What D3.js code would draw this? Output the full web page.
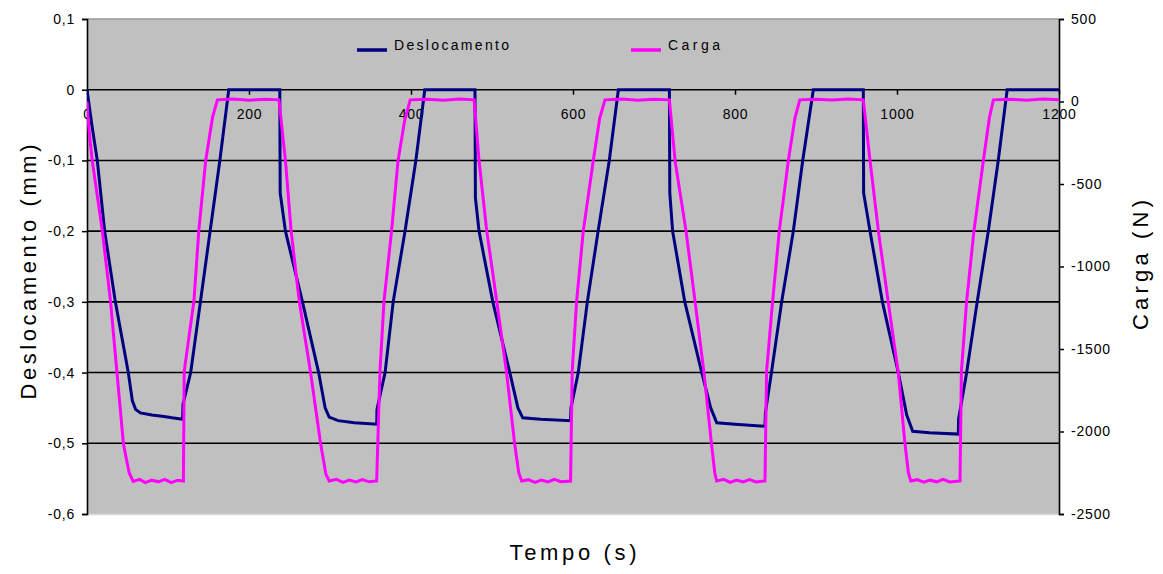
<!DOCTYPE html>
<html><head><meta charset="utf-8">
<script src="https://cdn.jsdelivr.net/npm/d3@7"></script>
<style>body{margin:0;background:#fff}svg{display:block}text{font-family:"Liberation Sans",Arial,sans-serif}</style>
</head><body><svg id="c" width="1163" height="574"></svg>
<script>
// ---- data ----
const seriesNames = ["Deslocamento", "Carga"];
const tempoDesl = [0,6,12.7,21.8,35,51,56,60,66,80,95,105,118,
 118.5,128,140,152,164,175,238,
 238.5,245,266,286,294,299,310,330,357.7,
 358,368,378,392.6,406,417,479,
 479.5,484,501,522,532,538,560,597,
 597.5,606.5,617.7,631,644.8,656,719,
 719.5,723,738,759,770,777.5,800,837,
 837.5,845,857.6,872,883.6,896.7,958.4,
 958.8,966.7,982,1001.6,1012,1019.4,1040,1075.7,
 1076,1086,1099,1112.7,1125,1136,1200];
const deslocamento = [0,-0.05,-0.1,-0.2,-0.3,-0.4,-0.44,-0.452,-0.457,-0.46,-0.462,-0.464,-0.466,
 -0.445,-0.4,-0.3,-0.2,-0.1,0,0,
 -0.146,-0.2,-0.3,-0.4,-0.45,-0.463,-0.468,-0.471,-0.473,
 -0.452,-0.4,-0.3,-0.2,-0.1,0,0,
 -0.153,-0.2,-0.3,-0.4,-0.45,-0.464,-0.466,-0.468,
 -0.45,-0.4,-0.3,-0.2,-0.1,0,0,
 -0.146,-0.2,-0.3,-0.4,-0.45,-0.471,-0.473,-0.476,
 -0.457,-0.4,-0.3,-0.2,-0.1,0,0,
 -0.146,-0.2,-0.3,-0.4,-0.46,-0.483,-0.485,-0.487,
 -0.466,-0.4,-0.3,-0.2,-0.1,0,0];
const tempoCarga = [0,1,3,6.5,18.9,29,37,45,52,57,65,72,80,88,96,104,112,119,
 120,132,138,146.5,155,161,180,200,220,237,
 245,252,262,276,288.5,295,299,308,316,324,332,340,348,357.6,
 361.7,366.7,376,384,392,399,420,440,460,478,
 484,493.5,505.8,518,528,533,536.7,545,553,561,569,577,585,597,
 599,604.5,612.7,625,633,639.5,660,680,700,719,
 726,739.5,750.6,761.7,771,775,777.4,786,794,802,810,818,826,837,
 839,846.5,854.7,865.8,874,880,900,920,940,958.4,
 966.7,977,989,1001.6,1009.9,1014,1017,1025,1033,1041,1049,1057,1065,1077.8,
 1079.5,1086,1095,1106.6,1114,1119,1140,1160,1180,1200];
const carga = [0,-80,-200,-359,-784,-1209,-1643,-2076,-2250,-2303,-2290,-2310,-2295,-2305,-2290,-2310,-2295,-2300,
 -1635,-1209,-784,-359,-95,10,15,8,14,10,
 -359,-784,-1209,-1643,-2076,-2260,-2300,-2290,-2308,-2294,-2306,-2292,-2305,-2300,
 -1635,-1209,-784,-359,-120,10,14,8,15,10,
 -359,-784,-1209,-1643,-2076,-2250,-2300,-2292,-2308,-2295,-2306,-2290,-2304,-2300,
 -1635,-1209,-784,-359,-100,10,15,8,14,10,
 -359,-784,-1209,-1643,-2076,-2250,-2300,-2290,-2308,-2294,-2305,-2291,-2306,-2300,
 -1635,-1209,-784,-359,-100,10,14,9,15,10,
 -359,-784,-1209,-1643,-2076,-2250,-2300,-2292,-2307,-2295,-2305,-2290,-2306,-2300,
 -1635,-1209,-784,-359,-100,10,14,8,15,10];
const xTicks = [0,200,400,600,800,1000,1200];
const yLeftTicks = [0.1,0,-0.1,-0.2,-0.3,-0.4,-0.5,-0.6];
const yRightTicks = [500,0,-500,-1000,-1500,-2000,-2500];
const colors = ["#000080", "#ff00ff"];

// ---- layout ----
const L = 87, R = 1059, T = 19, B = 514;
const svg = d3.select("#c");
const x = d3.scaleLinear().domain([0,1200]).range([L,R]);
const yL = d3.scaleLinear().domain([-0.6,0.1]).range([B,T]);
const yR = d3.scaleLinear().domain([-2500,500]).range([B,T]);

svg.append("rect").attr("x",L).attr("y",T).attr("width",R-L).attr("height",B-T).attr("fill","#c0c0c0");
svg.append("line").attr("x1",L).attr("x2",R).attr("y1",T).attr("y2",T).attr("stroke","#999").attr("stroke-width",1.5);
svg.append("line").attr("x1",L).attr("x2",R).attr("y1",B+0.5).attr("y2",B+0.5).attr("stroke","#d8d8d8").attr("stroke-width",1.5);

// gridlines
svg.append("g").selectAll("line").data(yLeftTicks.filter(d=>d<0.05 && d>-0.55)).join("line")
  .attr("x1",L).attr("x2",R).attr("y1",d=>yL(d)).attr("y2",d=>yL(d))
  .attr("stroke","#000").attr("stroke-width",1.6);

const fmtL = d => d===0 ? "0" : d.toFixed(1).replace(".",",");
const fmtR = d => String(d);

// left axis
const gl = svg.append("g").attr("transform",`translate(${L},0)`)
  .call(d3.axisLeft(yL).tickValues(yLeftTicks).tickFormat(fmtL).tickSize(5).tickPadding(7));
// right axis
const gr = svg.append("g").attr("transform",`translate(${R},0)`)
  .call(d3.axisRight(yR).tickValues(yRightTicks).tickFormat(fmtR).tickSize(5).tickPadding(7));
// x axis on the zero line
const gx = svg.append("g").attr("transform",`translate(0,${yL(0)})`)
  .call(d3.axisBottom(x).tickValues(xTicks).tickFormat(d=>String(d)).tickSize(5).tickPadding(14));
[gl,gr,gx].forEach(g=>{
  g.selectAll(".domain").attr("stroke","#000").attr("stroke-width",1.6);
  g.selectAll(".tick line").attr("stroke","#000").attr("stroke-width",1.5);
  g.selectAll("text").attr("font-size",14).attr("fill","#000").attr("letter-spacing","0.8px");
});
gx.select(".domain").remove();
gx.selectAll(".tick text").attr("dy","0.71em");

// lines
const clip = svg.append("clipPath").attr("id","clip").append("rect")
  .attr("x",L).attr("y",T-3).attr("width",R-L).attr("height",B-T+6);
const dDesl = tempoDesl.map((t,i)=>[t,deslocamento[i]]);
const dCarga = tempoCarga.map((t,i)=>[t,carga[i]]);
const g = svg.append("g").attr("clip-path","url(#clip)");
g.append("path").datum(dDesl).attr("fill","none").attr("stroke",colors[0]).attr("stroke-width",3)
  .attr("d",d3.line().x(d=>x(d[0])).y(d=>yL(d[1])));
g.append("path").datum(dCarga).attr("fill","none").attr("stroke",colors[1]).attr("stroke-width",3)
  .attr("d",d3.line().x(d=>x(d[0])).y(d=>yR(d[1])));

// legend
const leg = [{x:357, tx:394, w:115},{x:631, tx:668, w:52}];
seriesNames.forEach((n,i)=>{
  svg.append("line").attr("x1",leg[i].x).attr("x2",leg[i].x+30).attr("y1",50).attr("y2",50)
    .attr("stroke",colors[i]).attr("stroke-width",3.5);
  svg.append("text").attr("x",leg[i].tx).attr("y",50).attr("font-size",14)
    .attr("textLength",leg[i].w).attr("lengthAdjust","spacing").text(n);
});

// axis titles
svg.append("text").attr("transform","translate(36,272) rotate(-90)").attr("text-anchor","middle")
  .attr("font-size",22).attr("textLength",255).attr("lengthAdjust","spacing").text("Deslocamento (mm)");
svg.append("text").attr("transform","translate(1148,265) rotate(-90)").attr("text-anchor","middle")
  .attr("font-size",22).attr("textLength",130).attr("lengthAdjust","spacing").text("Carga (N)");
svg.append("text").attr("x",573).attr("y",560).attr("text-anchor","middle")
  .attr("font-size",22).attr("textLength",127).attr("lengthAdjust","spacing").text("Tempo (s)");
</script></body></html>
